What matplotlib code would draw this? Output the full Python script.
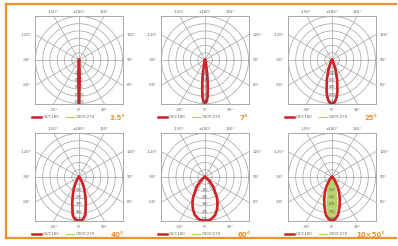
import numpy as np
import matplotlib
matplotlib.use("Agg")
import matplotlib.pyplot as plt
from matplotlib.lines import Line2D

# angulos (graus a partir do nadir) e intensidade relativa
angulos = [0, 2, 4, 6, 8, 10, 15, 20, 25, 30, 40, 50, 60, 90]

c0_35 = [1.0, 0.45, 0.10, 0.03, 0.01, 0, 0, 0, 0, 0, 0, 0, 0, 0]
c90_35 = [1.0, 0.47, 0.11, 0.03, 0.01, 0, 0, 0, 0, 0, 0, 0, 0, 0]
c0_7 = [1.0, 0.95, 0.85, 0.62, 0.40, 0.22, 0.05, 0.01, 0, 0, 0, 0, 0, 0]
c90_7 = [1.0, 0.95, 0.84, 0.60, 0.38, 0.21, 0.05, 0.01, 0, 0, 0, 0, 0, 0]
c0_25 = [1.0, 0.99, 0.96, 0.90, 0.82, 0.72, 0.45, 0.24, 0.10, 0.04, 0.01, 0, 0, 0]
c90_25 = [1.0, 0.99, 0.96, 0.90, 0.81, 0.71, 0.44, 0.23, 0.10, 0.04, 0.01, 0, 0, 0]
c0_40 = [1.0, 1.0, 0.99, 0.96, 0.92, 0.85, 0.60, 0.40, 0.26, 0.15, 0.05, 0.01, 0, 0]
c90_40 = [1.0, 1.0, 0.99, 0.97, 0.93, 0.88, 0.63, 0.42, 0.27, 0.16, 0.05, 0.01, 0, 0]
c0_60 = [1.0, 1.0, 1.0, 0.99, 0.98, 0.96, 0.90, 0.80, 0.68, 0.55, 0.30, 0.12, 0.03, 0]
c90_60 = [1.0, 1.0, 1.0, 0.99, 0.98, 0.97, 0.91, 0.81, 0.69, 0.56, 0.31, 0.12, 0.03, 0]
c0_1050 = [1.0, 0.99, 0.97, 0.94, 0.90, 0.85, 0.68, 0.52, 0.38, 0.26, 0.10, 0.03, 0, 0]
c90_1050 = [1.0, 0.97, 0.90, 0.80, 0.70, 0.60, 0.30, 0.12, 0.04, 0.01, 0, 0, 0, 0]

titulos = ['3.5°', '7°', '25°', '40°', '60°', '10×50°']
curvas_c0 = [c0_35, c0_7, c0_25, c0_40, c0_60, c0_1050]
curvas_c90 = [c90_35, c90_7, c90_25, c90_40, c90_60, c90_1050]
valores_raio = [
    ['4000', '6000', '8000', '10000', '12000'],
    ['1200', '1800', '2400', '3000', '3600'],
    ['400', '600', '800', '1000', '1200'],
    ['380', '570', '760', '950', '1140'],
    ['190', '285', '380', '475', '570'],
    ['300', '450', '600', '750', '900'],
]
rotulos_angulo = ['-30°', '0°', '30°', '-60°', '60°', '-90°', '90°', '-120°', '120°', '-150°', '±180°', '150°']

laranja = '#f0922b'
vermelho = '#d0202a'
verde = '#b3d35a'
cinza = '#a9a9a9'

W, H = 398, 246
fig = plt.figure(figsize=(W / 100, H / 100), dpi=100)
fig.patch.set_facecolor('white')

centros = [(79, 60), (205, 60), (332, 60), (79, 177), (205, 177), (332, 177)]
meio = 44


def desenha_painel(ax, c0, c90, valores, titulo, ultimo):
    ax.set_xlim(-1, 1)
    ax.set_ylim(-1, 1)
    ax.set_xticks([])
    ax.set_yticks([])
    for s in ax.spines.values():
        s.set_color(cinza)
        s.set_linewidth(0.7)

    t = np.linspace(0, 2 * np.pi, 200)
    for k in range(1, 7):
        r = k / 6 * 0.99
        ax.plot(r * np.cos(t), r * np.sin(t), color=cinza, lw=0.55, zorder=1)
    for a in range(0, 360, 30):
        ar = np.radians(a)
        ax.plot([0, 2 * np.sin(ar)], [0, -2 * np.cos(ar)], color=cinza, lw=0.55, zorder=1)

    # curvas espelhadas (0° para baixo)
    th = np.radians(angulos)
    th_full = np.concatenate([-th[::-1], th[1:]])
    for valores_c, cor, lw, z in [(c90, verde, 1.5, 2), (c0, vermelho, 1.9, 3)]:
        r = np.array(valores_c, dtype=float)
        r_full = np.concatenate([r[::-1], r[1:]]) * 0.99
        x = r_full * np.sin(th_full)
        y = -r_full * np.cos(th_full)
        if cor == verde and ultimo:
            ax.fill(x, y, color=verde, alpha=0.85, zorder=2, lw=0)
        ax.plot(x, y, color=cor, lw=lw, zorder=z, solid_joinstyle='round')

    for k, v in enumerate(valores):
        r = (k + 2) / 6 * 0.99
        ax.text(0, -r + 0.04, v, fontsize=2.4, color='#555555', ha='center', va='center', zorder=5)

    # rotulos de angulo em volta da moldura
    tg = np.tan(np.radians(30))
    pos = [(-tg, -1.1, 'center', 'top'), (0, -1.1, 'center', 'top'), (tg, -1.1, 'center', 'top'),
           (-1.08, -tg, 'right', 'center'), (1.08, -tg, 'left', 'center'),
           (-1.08, 0, 'right', 'center'), (1.08, 0, 'left', 'center'),
           (-1.08, tg, 'right', 'center'), (1.08, tg, 'left', 'center'),
           (-tg, 1.05, 'center', 'bottom'), (0, 1.05, 'center', 'bottom'), (tg, 1.05, 'center', 'bottom')]
    for (px, py, ha, va), lab in zip(pos, rotulos_angulo):
        ax.text(px, py, lab, fontsize=2.8, color='#666666', ha=ha, va=va, clip_on=False)

    # legenda
    yl = -1.3
    ax.plot([-1.07, -0.86], [yl, yl], color=vermelho, lw=1.8, clip_on=False)
    ax.text(-0.83, yl, 'C0/C180', fontsize=2.8, color='#666666', ha='left', va='center')
    ax.plot([-0.30, -0.11], [yl, yl], color=verde, lw=0.9, clip_on=False)
    ax.text(-0.08, yl, 'C90/C270', fontsize=2.8, color='#666666', ha='left', va='center')
    ax.text(0.88, yl - 0.02, titulo, fontsize=5, color=laranja, ha='center', va='center',
            fontweight='bold')


for i, (cx, cy) in enumerate(centros):
    ax = fig.add_axes([(cx - meio) / W, 1 - (cy + meio) / H, 2 * meio / W, 2 * meio / H])
    desenha_painel(ax, curvas_c0[i], curvas_c90[i], valores_raio[i], titulos[i], i == 5)

# moldura laranja
for xs, ys in [([6, 396], [4, 4]), ([6, 6], [4, 238]), ([6, 396], [238, 238])]:
    fig.add_artist(Line2D([x / W for x in xs], [1 - y / H for y in ys],
                          transform=fig.transFigure, color=laranja, lw=1.6))

fig.savefig('out.png', dpi=100)
